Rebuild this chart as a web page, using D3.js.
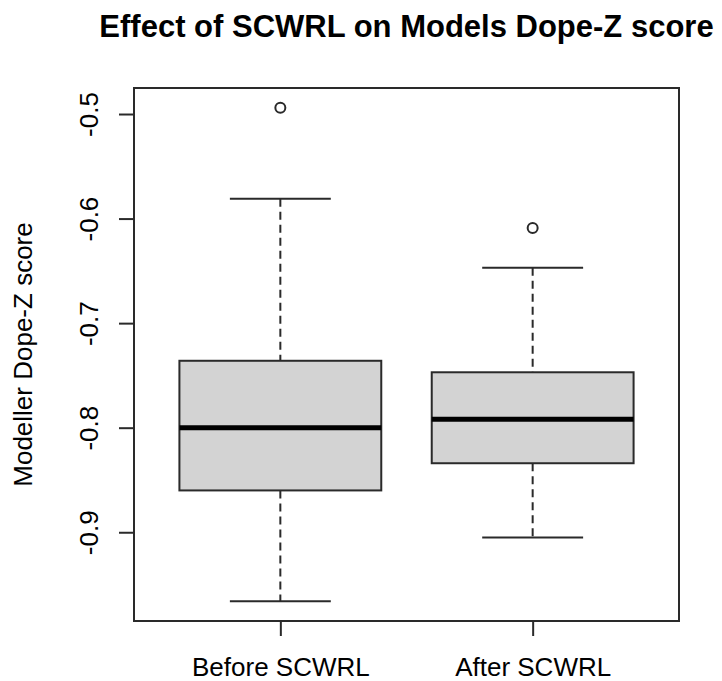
<!DOCTYPE html>
<html>
<head>
<meta charset="utf-8">
<script src="https://cdn.jsdelivr.net/npm/d3@7"></script>
<style>
  body { margin: 0; background: #fff; }
  text { font-family: "Liberation Sans", Arial, sans-serif; fill: #000; }
</style>
</head>
<body>
<div id="chart"></div>
<script>
// boxplot stats
var groups = ["Before SCWRL", "After SCWRL"];
var lowWhisker = [-0.966, -0.905];
var q1 = [-0.860, -0.834];
var median = [-0.800, -0.792];
var q3 = [-0.736, -0.747];
var highWhisker = [-0.581, -0.647];
var outliers = [[-0.494], [-0.609]];
var yTicks = [-0.9, -0.8, -0.7, -0.6, -0.5];

var W = 722, H = 681;
var margin = {top: 88, right: 43, bottom: 60, left: 134},
    width = W - margin.left - margin.right,
    height = H - margin.top - margin.bottom;

var svg = d3.select("#chart")
  .append("svg")
  .attr("width", W)
  .attr("height", H);

var g = svg.append("g")
  .attr("transform", "translate(" + margin.left + "," + margin.top + ")");

// R style ranges: 4% padding around the data
var allVals = lowWhisker.concat(highWhisker, d3.merge(outliers));
var lo = d3.min(allVals), hi = d3.max(allVals);
var pad = (hi - lo) * 0.04;
var y = d3.scaleLinear().domain([lo - pad, hi + pad]).range([height, 0]);
var x = d3.scaleLinear().domain([0.42, groups.length + 0.58]).range([0, width]);

var boxW = x(1.8) - x(1);      // 0.8 units
var capW = boxW / 2;

var stroke = "#2a2a2a";

var data = groups.map(function(name, i) {
  return {name: name, i: i + 1, lo: lowWhisker[i], q1: q1[i], med: median[i],
          q3: q3[i], hi: highWhisker[i], out: outliers[i]};
});

var box = g.selectAll(".box").data(data).enter().append("g").attr("class", "box");

// whiskers (dashed)
box.append("line")
  .attr("x1", d => x(d.i)).attr("x2", d => x(d.i))
  .attr("y1", d => y(d.hi)).attr("y2", d => y(d.q3))
  .attr("stroke", stroke).attr("stroke-width", 2).attr("stroke-dasharray", "8,5");
box.append("line")
  .attr("x1", d => x(d.i)).attr("x2", d => x(d.i))
  .attr("y1", d => y(d.q1)).attr("y2", d => y(d.lo))
  .attr("stroke", stroke).attr("stroke-width", 2).attr("stroke-dasharray", "8,5");

// caps
box.append("line")
  .attr("x1", d => x(d.i) - capW / 2).attr("x2", d => x(d.i) + capW / 2)
  .attr("y1", d => y(d.hi)).attr("y2", d => y(d.hi))
  .attr("stroke", stroke).attr("stroke-width", 2);
box.append("line")
  .attr("x1", d => x(d.i) - capW / 2).attr("x2", d => x(d.i) + capW / 2)
  .attr("y1", d => y(d.lo)).attr("y2", d => y(d.lo))
  .attr("stroke", stroke).attr("stroke-width", 2);

// box
box.append("rect")
  .attr("x", d => x(d.i) - boxW / 2)
  .attr("y", d => y(d.q3))
  .attr("width", boxW)
  .attr("height", d => y(d.q1) - y(d.q3))
  .attr("fill", "#d3d3d3")
  .attr("stroke", stroke).attr("stroke-width", 2);

// median
box.append("line")
  .attr("x1", d => x(d.i) - boxW / 2).attr("x2", d => x(d.i) + boxW / 2)
  .attr("y1", d => y(d.med)).attr("y2", d => y(d.med))
  .attr("stroke", "#000").attr("stroke-width", 5);

// outliers
box.selectAll("circle").data(d => d.out.map(v => ({i: d.i, v: v}))).enter()
  .append("circle")
  .attr("cx", d => x(d.i)).attr("cy", d => y(d.v))
  .attr("r", 5)
  .attr("fill", "none").attr("stroke", stroke).attr("stroke-width", 2);

// frame
g.append("rect")
  .attr("width", width).attr("height", height)
  .attr("fill", "none").attr("stroke", stroke).attr("stroke-width", 2);

// y axis
var yAxis = g.append("g")
  .call(d3.axisLeft(y).tickValues(yTicks).tickSize(15).tickFormat(d3.format(".1f")));
yAxis.select(".domain").remove();
yAxis.selectAll(".tick line").attr("stroke", stroke).attr("stroke-width", 2);
yAxis.selectAll(".tick text")
  .attr("x", 0).attr("y", 0).attr("dy", null)
  .attr("transform", "translate(-36,0) rotate(-90)")
  .attr("text-anchor", "middle")
  .style("font-size", "26px")
  .style("font-family", "'Liberation Sans', Arial, sans-serif")
  .attr("fill", "#000")
  .text(d => d3.format(".1f")(d).replace("−", "-"));

// x axis
var xAxis = g.append("g")
  .attr("transform", "translate(0," + height + ")")
  .call(d3.axisBottom(x).tickValues(data.map(d => d.i)).tickSize(15).tickFormat((d, i) => groups[i]));
xAxis.select(".domain").remove();
xAxis.selectAll(".tick line").attr("stroke", stroke).attr("stroke-width", 2);
xAxis.selectAll(".tick text")
  .attr("y", 55).attr("dy", null)
  .style("font-size", "26px")
  .style("font-family", "'Liberation Sans', Arial, sans-serif")
  .attr("fill", "#000");

// titles
svg.append("text")
  .attr("x", margin.left + width / 2).attr("y", 37)
  .attr("text-anchor", "middle")
  .style("font-size", "31px").style("font-weight", "bold")
  .text("Effect of SCWRL on Models Dope-Z score");

svg.append("text")
  .attr("transform", "translate(32," + (margin.top + height / 2) + ") rotate(-90)")
  .attr("text-anchor", "middle")
  .style("font-size", "26px")
  .text("Modeller Dope-Z score");
</script>
</body>
</html>
